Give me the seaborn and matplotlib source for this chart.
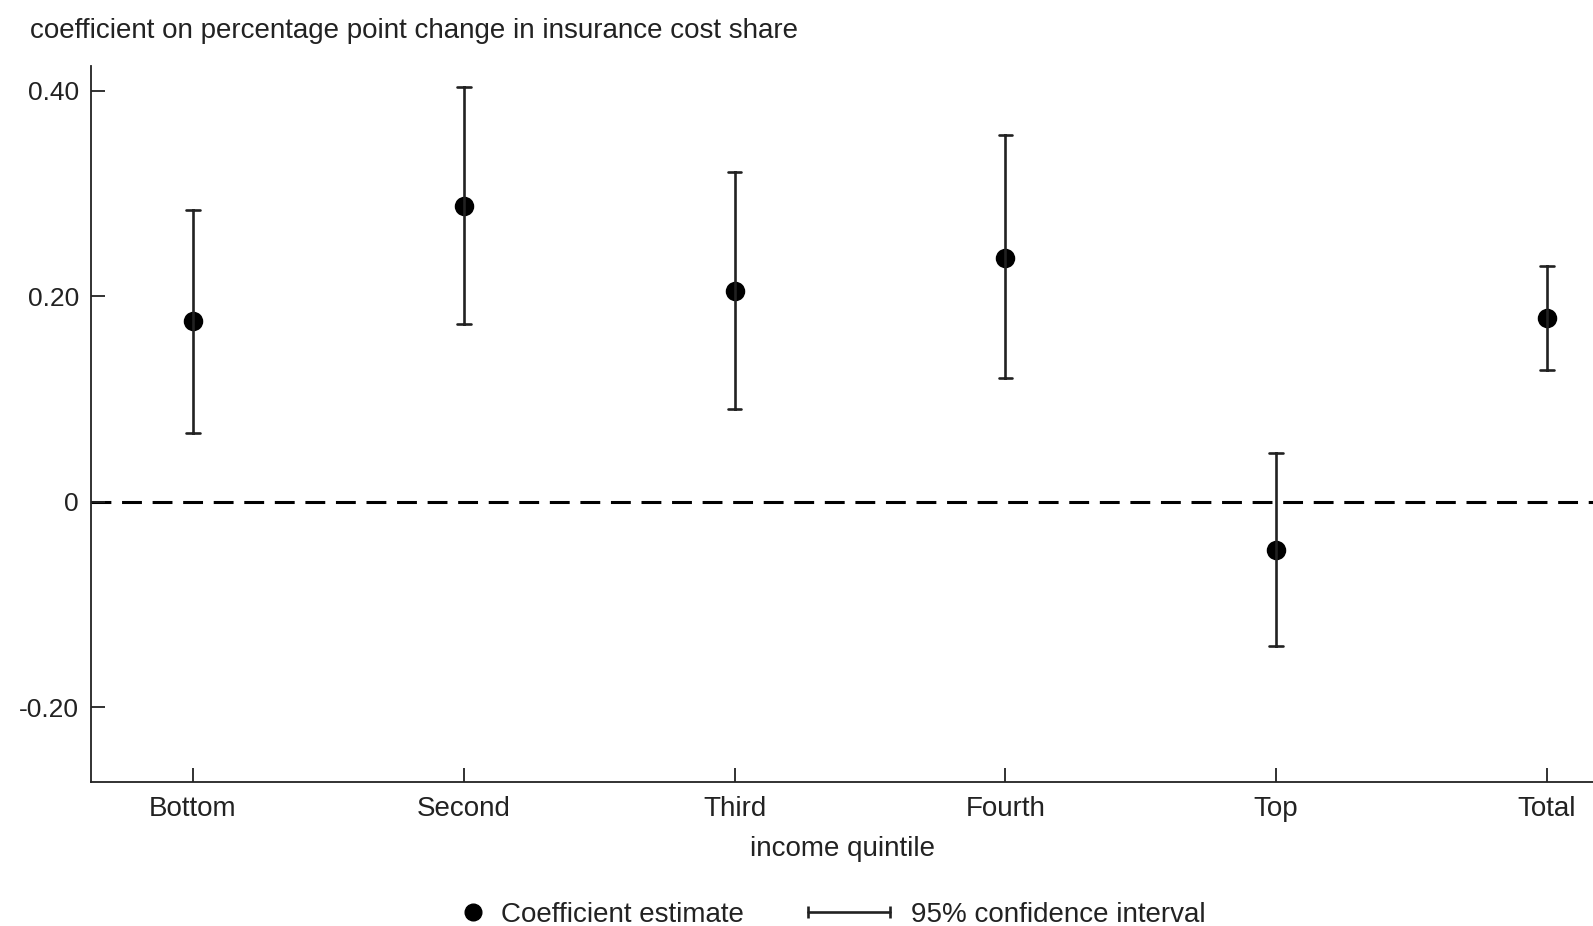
import matplotlib
matplotlib.use("Agg")
import matplotlib.pyplot as plt
from matplotlib.lines import Line2D
from matplotlib.legend_handler import HandlerLine2D
import pandas as pd
import seaborn as sns

# values
quintiles = ["Bottom", "Second", "Third", "Fourth", "Top", "Total"]
estimate = [0.176, 0.288, 0.205, 0.237, -0.047, 0.179]
ci_low = [0.067, 0.173, 0.090, 0.120, -0.141, 0.128]
ci_high = [0.284, 0.404, 0.321, 0.357, 0.047, 0.229]

y_ticks = [-0.20, 0, 0.20, 0.40]
y_tick_labels = ["-0.20", "0", "0.20", "0.40"]

# long form: median of (low, est, high) is the estimate, min/max the interval
rows = []
for q, lo, est, hi in zip(quintiles, ci_low, estimate, ci_high):
    for v in (lo, est, hi):
        rows.append({"quintile": q, "value": v})
df = pd.DataFrame(rows)

sns.set_theme(style="white")
plt.rcParams["font.family"] = ["Liberation Sans", "DejaVu Sans"]
ink = "#222222"
fs = 20

fig = plt.figure(figsize=(15.93, 9.26), dpi=100)
ax = fig.add_axes([0.0574, 0.1555, 0.9426, 0.7732])

sns.pointplot(data=df, x="quintile", y="value", order=quintiles,
              estimator="median", errorbar=("pi", 100),
              color="black", linestyle="none", markersize=12,
              capsize=0.05, err_kws={"linewidth": 1.9, "color": ink}, ax=ax)

ax.axhline(0, color="black", linestyle=(0, (6.5, 3.5)), linewidth=2.2, zorder=0)

ax.set_xlim(-0.375, 5.17)
ax.set_ylim(-0.273, 0.424)
ax.set_yticks(y_ticks, y_tick_labels)

for side in ["top", "right"]:
    ax.spines[side].set_visible(False)
for side in ["left", "bottom"]:
    ax.spines[side].set_color(ink)
    ax.spines[side].set_linewidth(1.3)

ax.tick_params(axis="both", direction="in", length=10, width=1.3,
               colors=ink, labelsize=fs, bottom=True, left=True)
ax.tick_params(axis="y", pad=9, labelsize=19)
ax.tick_params(axis="x", pad=10)
ax.set_xlabel("income quintile", fontsize=fs, color=ink, labelpad=10)
ax.set_ylabel("")

fig.text(29.5 / 1593, 1 - 30.5 / 926,
         "coefficient on percentage point change in insurance cost share",
         fontsize=fs, color=ink, va="center", ha="left")

# legend, two pieces so each handle keeps its own width
dot = Line2D([], [], marker="o", color="black", linestyle="none", markersize=12)
ci = Line2D([], [], marker="|", color=ink, linewidth=1.9,
            markersize=9, markeredgewidth=1.9)
leg_kw = dict(loc="center left", frameon=False, fontsize=fs,
              borderaxespad=0, borderpad=0, labelcolor=ink)
fig.legend([dot], ["Coefficient estimate"],
           handler_map={dot: HandlerLine2D(numpoints=1)},
           bbox_to_anchor=(0.290, 0.012), handlelength=0.8,
           handletextpad=0.6, **leg_kw)
fig.legend([ci], ["95% confidence interval"],
           handler_map={ci: HandlerLine2D(numpoints=2)},
           bbox_to_anchor=(0.502, 0.012), handlelength=3.55,
           handletextpad=0.44, **leg_kw)

fig.savefig("out.png", dpi=100)
